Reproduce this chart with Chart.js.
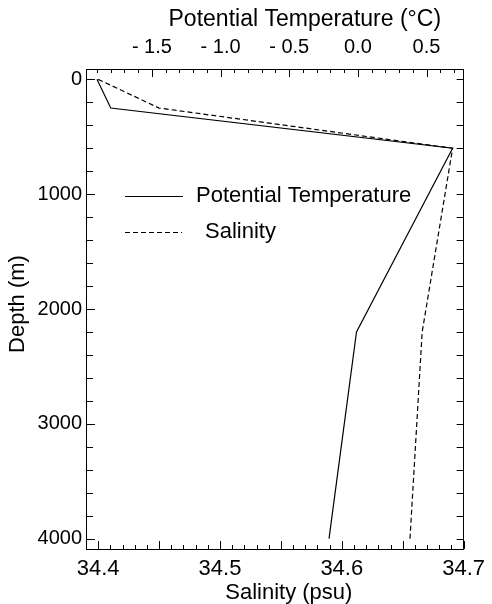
<!DOCTYPE html>
<html><head><meta charset="utf-8">
<script src="https://cdn.jsdelivr.net/npm/chart.js@4"></script>
<style>html,body{margin:0;padding:0;background:#fff}canvas{display:block}</style>
</head><body>
<canvas id="c" width="492" height="604"></canvas>
<script>
// ---- data ----
const depths = [0, 250, 600, 2200, 4000];
const temperature = [-1.90, -1.80, 0.69, -0.01, -0.21];
const salinity = [34.40, 34.45, 34.691, 34.666, 34.656];
const seriesNames = ['Potential Temperature', 'Salinity'];
const salinityTicks = [34.4, 34.5, 34.6, 34.7];
const temperatureTicks = [-1.5, -1.0, -0.5, 0.0, 0.5];
const temperatureTickLabels = ['- 1.5', '- 1.0', '- 0.5', '0.0', '0.5'];
const depthTicks = [0, 1000, 2000, 3000, 4000];
const axisTitles = {salinity: 'Salinity (psu)', temperature: 'Potential Temperature (°C)', depth: 'Depth (m)'};

const FONT = "'Liberation Sans', Arial, Helvetica, sans-serif";
const BLACK = '#000';

const inwardTicks = {
  id: 'inwardTicks',
  afterDatasetsDraw(chart) {
    const {ctx, chartArea: a, scales} = chart;
    ctx.save();
    ctx.strokeStyle = BLACK; ctx.lineWidth = 1; ctx.setLineDash([]);
    const seg = (x1, y1, x2, y2) => { ctx.beginPath(); ctx.moveTo(x1, y1); ctx.lineTo(x2, y2); ctx.stroke(); };
    const r = p => Math.round(p) + 0.5;
    for (let k = 3439; k <= 3470; k++) {
      const x = r(scales.x.getPixelForValue(k / 100));
      seg(x, a.bottom, x, a.bottom - ((k % 5 === 0) ? 8 : 4));
    }
    for (let k = -19; k <= 7; k++) {
      const x = r(scales.xT.getPixelForValue(k / 10));
      seg(x, a.top, x, a.top + ((k % 5 === 0) ? 8 : 4));
    }
    for (let d = 0; d <= 4000; d += 200) {
      const y = r(scales.y.getPixelForValue(d));
      seg(a.left, y, a.left + (d % 1000 === 0 ? 9 : 7), y);
      seg(a.right, y, a.right - 7, y);
    }
    ctx.restore();
  }
};

// axis titles, placed as in the reference (slightly right of the axis centre)
const titlePlugin = {
  id: 'titlePlugin',
  afterDraw(chart) {
    const {ctx, chartArea: a} = chart;
    const cx = (a.left + a.right) / 2, cy = (a.top + a.bottom) / 2;
    ctx.save();
    ctx.fillStyle = BLACK; ctx.textAlign = 'center'; ctx.textBaseline = 'middle';
    ctx.font = '23px ' + FONT;
    ctx.fillText(axisTitles.temperature, cx + 30, 20);
    ctx.font = '22px ' + FONT;
    ctx.fillText(axisTitles.salinity, cx + 14, 593);
    ctx.translate(18, cy - 5); ctx.rotate(-Math.PI / 2);
    ctx.fillText(axisTitles.depth, 0, 0);
    ctx.restore();
  }
};

const innerLegend = {
  id: 'innerLegend',
  afterDraw(chart) {
    const {ctx} = chart;
    const items = [
      {ds: chart.data.datasets[0], x1: 125, x2: 183, y: 196, tx: 196},
      {ds: chart.data.datasets[1], x1: 125, x2: 182, y: 232, tx: 205}
    ];
    ctx.save();
    items.forEach(it => {
      ctx.strokeStyle = it.ds.borderColor; ctx.lineWidth = it.ds.borderWidth;
      ctx.setLineDash(it.ds.borderDash || []);
      ctx.beginPath(); ctx.moveTo(it.x1, it.y + 0.5); ctx.lineTo(it.x2, it.y + 0.5); ctx.stroke();
      ctx.setLineDash([]);
      ctx.fillStyle = BLACK; ctx.font = '22px ' + FONT;
      ctx.textBaseline = 'middle'; ctx.textAlign = 'left';
      ctx.fillText(it.ds.label, it.tx, it.y);
    });
    ctx.restore();
  }
};

const tempPoints = depths.map((d, i) => ({x: temperature[i], y: d}));
const salPoints = depths.map((d, i) => ({x: salinity[i], y: d}));

new Chart(document.getElementById('c'), {
  type: 'scatter',
  data: {
    datasets: [
      {label: seriesNames[0], data: tempPoints, xAxisID: 'xT', yAxisID: 'y', showLine: true,
       borderColor: BLACK, borderWidth: 1.2, pointRadius: 0, fill: false},
      {label: seriesNames[1], data: salPoints, xAxisID: 'x', yAxisID: 'y', showLine: true,
       borderColor: BLACK, borderWidth: 1.2, borderDash: [5, 3], pointRadius: 0, fill: false}
    ]
  },
  options: {
    responsive: false, animation: false, devicePixelRatio: 1,
    layout: {padding: 0},
    plugins: {legend: {display: false}, tooltip: {enabled: false}},
    scales: {
      x: {
        type: 'linear', position: 'bottom', min: 34.39, max: 34.70,
        afterBuildTicks: s => { s.ticks = salinityTicks.map(v => ({value: v})); },
        afterFit: s => { s.height = 55; },
        grid: {display: false, drawTicks: false},
        border: {display: true, color: BLACK, width: 1},
        ticks: {color: BLACK, padding: 7, font: {family: FONT, size: 22}, maxRotation: 0,
                callback: v => v.toFixed(1)},
        title: {display: false, text: axisTitles.salinity}
      },
      xT: {
        type: 'linear', position: 'top', min: -1.98, max: 0.77,
        afterBuildTicks: s => { s.ticks = temperatureTicks.map(v => ({value: v})); },
        afterFit: s => { s.height = 69; },
        grid: {display: false, drawTicks: false},
        border: {display: true, color: BLACK, width: 1},
        ticks: {color: BLACK, padding: 10, font: {family: FONT, size: 20}, maxRotation: 0,
                callback: (v) => { const i = temperatureTicks.findIndex(t => Math.abs(t - v) < 1e-9); return i >= 0 ? temperatureTickLabels[i] : ''; }},
        title: {display: false, text: axisTitles.temperature}
      },
      y: {
        type: 'linear', position: 'left', reverse: true, min: -90, max: 4090,
        afterBuildTicks: s => { s.ticks = depthTicks.map(v => ({value: v})); },
        afterFit: s => { s.width = 86; },
        grid: {display: false, drawTicks: false},
        border: {display: true, color: BLACK, width: 1},
        ticks: {color: BLACK, padding: 4, font: {family: FONT, size: 20},
                callback: v => String(v)},
        title: {display: false, text: axisTitles.depth}
      },
      y2: {
        type: 'linear', position: 'right', reverse: true, min: -90, max: 4090,
        afterFit: s => { s.width = 23; },
        grid: {display: false, drawTicks: false},
        border: {display: true, color: BLACK, width: 1},
        ticks: {display: false}
      }
    }
  },
  plugins: [inwardTicks, titlePlugin, innerLegend]
});
</script>
</body></html>
